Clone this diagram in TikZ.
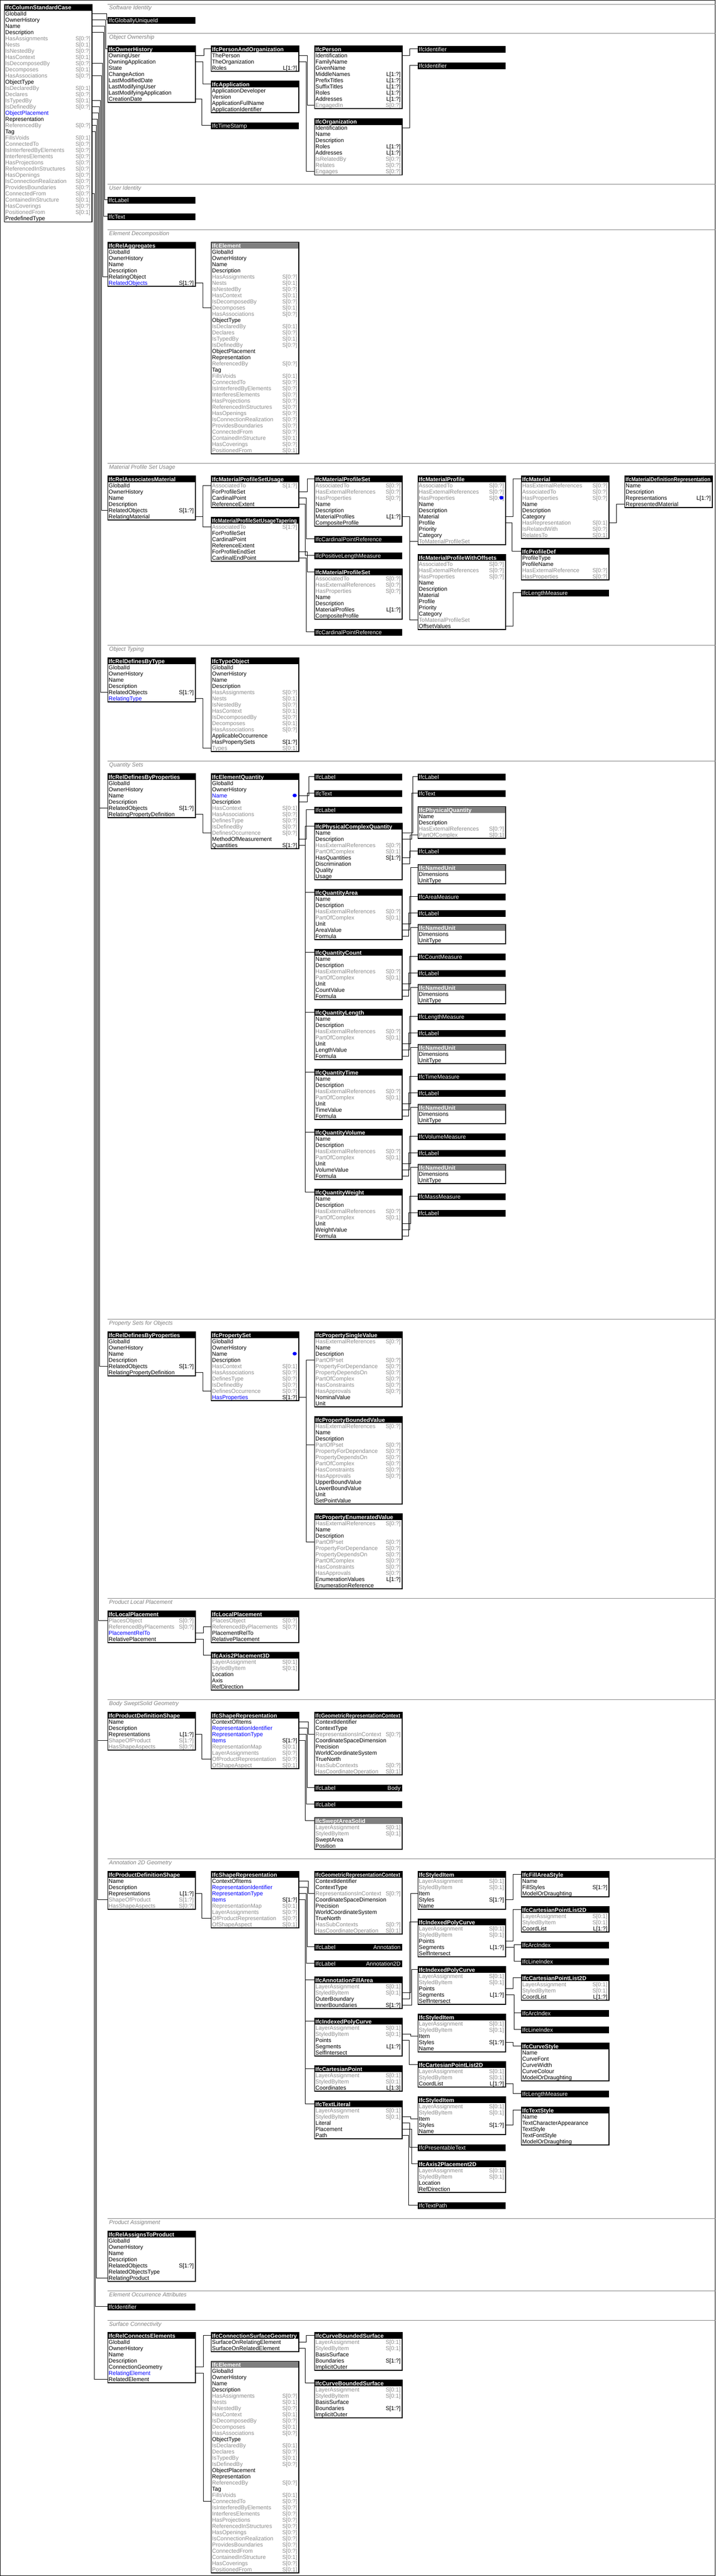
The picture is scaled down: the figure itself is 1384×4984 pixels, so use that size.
\documentclass[tikz,border=0pt]{standalone}
\usepackage{fontspec}
\setmainfont{Liberation Sans}
\usetikzlibrary{calc}
\definecolor{tk}{RGB}{0,0,0}
\definecolor{tg}{RGB}{140,140,140}
\definecolor{tb}{RGB}{0,0,255}
\definecolor{gline}{RGB}{128,128,128}
\definecolor{ghead}{RGB}{128,128,128}
\def\dashmark{-}
\def\tgname{tg}
\newsavebox\hbx
\newcommand\fittitle[1]{\sbox\hbx{#1}\ifdim\wd\hbx>164pt\resizebox{164pt}{\height}{\usebox\hbx}\else\usebox\hbx\fi}
\tikzset{
  rowtext/.style={anchor=base west, inner sep=0pt, font=\fontsize{11}{12}\selectfont},
  suftext/.style={anchor=base east, inner sep=0pt, font=\fontsize{11}{12}\selectfont},
  headtext/.style={anchor=base west, inner sep=0pt, text=white, font=\bfseries\fontsize{11}{12}\selectfont},
  typetext/.style={anchor=base west, inner sep=0pt, text=white, font=\fontsize{11}{12}\selectfont},
  sectitle/.style={anchor=base west, inner sep=0pt, text=gline, font=\itshape\fontsize{11}{12}\selectfont},
  conn/.style={draw=black, line width=1pt},
  entbox/.style={draw=black, line width=1pt, fill=white, anchor=north west, inner sep=0pt, minimum width=169pt},
}
% entity: id, x, y, title, header fill, rows
\newcommand\ent[6]{%
  \edef\entlist{#6}%
  \foreach \lab/\suf/\col [count=\i] in \entlist {\xdef\entn{\i}}%
  \node[entbox, minimum height={12.5pt+12pt*\entn}] (#1) at (#2,#3) {};
  \fill[#5] (#2,#3) rectangle ++(169,12.5);
  \node[headtext] (#1T) at (#2+2,#3+10.5) {\fittitle{#4}};
  \draw[line width=1pt] (#1.north west) rectangle (#1.south east);
  \coordinate (#1H) at (#2+169,#3+6.25);
  \coordinate (#1HL) at (#2,#3+6.25);
  \foreach \lab/\suf/\col [count=\i] in \entlist {
    \node[rowtext, text=\col] (#1t\i) at (#2+2,#3+12.5+12*\i-2) {\lab};
    \edef\tmps{\suf}\edef\tmpc{\col}%
    \ifx\tmps\dashmark\else
      \ifx\tmpc\tgname
        \node[suftext, text=tg] (#1s\i) at (#2+167,#3+12.5+12*\i-2) {\suf};
      \else
        \node[suftext] (#1s\i) at (#2+167,#3+12.5+12*\i-2) {\suf};
      \fi
    \fi
    \coordinate (#1R\i) at (#2+169,#3+12.5+12*\i-6);
    \coordinate (#1L\i) at (#2,#3+12.5+12*\i-6);
  }
}
% type box: id, x, y, text, right text
\newcommand\tbox[5]{%
  \node[fill=black, draw=black, line width=1pt, anchor=north west, inner sep=0pt, minimum width=169pt, minimum height=12.5pt] (#1) at (#2,#3) {};
  \node[typetext] (#1T) at (#2+2,#3+10.5) {#4};
  \node[typetext, anchor=base east] (#1V) at (#2+167,#3+10.5) {#5};
  \coordinate (#1HL) at (#2,#3+6.25);
}
\newcommand\secline[3]{%
  \draw[gline, line width=1pt] (208,#2) -- (1384,#2);
  \node[sectitle] (#1) at (211,#2+11) {#3};
}
\newcommand\conn[3]{\draw[conn] (#1) -- (#1 -| #2,0) |- (#3);}
\newcommand\bdot[2]{\fill[tb] (#1,#2) ellipse (4pt and 3.5pt);}

\def\rootr{GlobalId/-/tk,OwnerHistory/-/tk,Name/-/tk,Description/-/tk}
\def\mainrows{\rootr,HasAssignments/S[0:?]/tg,Nests/S[0:1]/tg,IsNestedBy/S[0:?]/tg,HasContext/S[0:1]/tg,IsDecomposedBy/S[0:?]/tg,Decomposes/S[0:1]/tg,HasAssociations/S[0:?]/tg,ObjectType/-/tk,IsDeclaredBy/S[0:1]/tg,Declares/S[0:?]/tg,IsTypedBy/S[0:1]/tg,IsDefinedBy/S[0:?]/tg,ObjectPlacement/-/tb,Representation/-/tk,ReferencedBy/S[0:?]/tg,Tag/-/tk,FillsVoids/S[0:1]/tg,ConnectedTo/S[0:?]/tg,IsInterferedByElements/S[0:?]/tg,InterferesElements/S[0:?]/tg,HasProjections/S[0:?]/tg,ReferencedInStructures/S[0:?]/tg,HasOpenings/S[0:?]/tg,IsConnectionRealization/S[0:?]/tg,ProvidesBoundaries/S[0:?]/tg,ConnectedFrom/S[0:?]/tg,ContainedInStructure/S[0:1]/tg,HasCoverings/S[0:?]/tg,PositionedFrom/S[0:1]/tg,PredefinedType/-/tk}
\def\elemrows{\rootr,HasAssignments/S[0:?]/tg,Nests/S[0:1]/tg,IsNestedBy/S[0:?]/tg,HasContext/S[0:1]/tg,IsDecomposedBy/S[0:?]/tg,Decomposes/S[0:1]/tg,HasAssociations/S[0:?]/tg,ObjectType/-/tk,IsDeclaredBy/S[0:1]/tg,Declares/S[0:?]/tg,IsTypedBy/S[0:1]/tg,IsDefinedBy/S[0:?]/tg,ObjectPlacement/-/tk,Representation/-/tk,ReferencedBy/S[0:?]/tg,Tag/-/tk,FillsVoids/S[0:1]/tg,ConnectedTo/S[0:?]/tg,IsInterferedByElements/S[0:?]/tg,InterferesElements/S[0:?]/tg,HasProjections/S[0:?]/tg,ReferencedInStructures/S[0:?]/tg,HasOpenings/S[0:?]/tg,IsConnectionRealization/S[0:?]/tg,ProvidesBoundaries/S[0:?]/tg,ConnectedFrom/S[0:?]/tg,ContainedInStructure/S[0:1]/tg,HasCoverings/S[0:?]/tg,PositionedFrom/S[0:1]/tg}
\def\qrows#1{Name/-/tk,Description/-/tk,HasExternalReferences/S[0:?]/tg,PartOfComplex/S[0:1]/tg,Unit/-/tk,#1/-/tk,Formula/-/tk}
\def\prows{HasExternalReferences/S[0:?]/tg,Name/-/tk,Description/-/tk,PartOfPset/S[0:?]/tg,PropertyForDependance/S[0:?]/tg,PropertyDependsOn/S[0:?]/tg,PartOfComplex/S[0:?]/tg,HasConstraints/S[0:?]/tg,HasApprovals/S[0:?]/tg}
\def\mprows{AssociatedTo/S[0:?]/tg,HasExternalReferences/S[0:?]/tg,HasProperties/S[0:?]/tg,Name/-/tk,Description/-/tk,Material/-/tk,Profile/-/tk,Priority/-/tk,Category/-/tk,ToMaterialProfileSet/-/tg}
\def\mpsrows{AssociatedTo/S[0:?]/tg,HasExternalReferences/S[0:?]/tg,HasProperties/S[0:?]/tg,Name/-/tk,Description/-/tk,MaterialProfiles/L[1:?]/tk,CompositeProfile/-/tk}
\def\lsr{LayerAssignment/S[0:1]/tg,StyledByItem/S[0:1]/tg}
\def\srrows{ContextOfItems/-/tk,RepresentationIdentifier/-/tb,RepresentationType/-/tb,Items/S[1:?]/tb,RepresentationMap/S[0:1]/tg,LayerAssignments/S[0:?]/tg,OfProductRepresentation/S[0:?]/tg,OfShapeAspect/S[0:1]/tg}
\def\grcrows{ContextIdentifier/-/tk,ContextType/-/tk,RepresentationsInContext/S[0:?]/tg,CoordinateSpaceDimension/-/tk,Precision/-/tk,WorldCoordinateSystem/-/tk,TrueNorth/-/tk,HasSubContexts/S[0:?]/tg,HasCoordinateOperation/S[0:1]/tg}
\def\pdsrows{Name/-/tk,Description/-/tk,Representations/L[1:?]/tk,ShapeOfProduct/S[1:?]/tg,HasShapeAspects/S[0:?]/tg}
\def\ipcrows{\lsr,Points/-/tk,Segments/L[1:?]/tk,SelfIntersect/-/tk}
\def\sirows{\lsr,Item/-/tk,Styles/S[1:?]/tk,Name/-/tk}
\def\cplrows{\lsr,CoordList/L[1:?]/tk}
\def\cbsrows{\lsr,BasisSurface/-/tk,Boundaries/S[1:?]/tk,ImplicitOuter/-/tk}

\begin{document}
\begin{tikzpicture}[x=1pt,y=-1pt]
\useasboundingbox (0,0) rectangle (1384,4984);
\fill[white] (0,0) rectangle (1384,4984);
\draw[line width=1pt] (0.5,0.5) rectangle (1383.5,4983.5);

% ---------- main entity
\ent{main}{8}{8}{IfcColumnStandardCase}{black}{\mainrows}

% ---------- Software Identity
\secline{s1}{8}{Software Identity}
\tbox{guid}{208}{32.5}{IfcGloballyUniqueId}{}

% ---------- Object Ownership
\secline{s2}{64}{Object Ownership}
\ent{ownh}{208}{88.5}{IfcOwnerHistory}{black}{OwningUser/-/tk,OwningApplication/-/tk,State/-/tk,ChangeAction/-/tk,LastModifiedDate/-/tk,LastModifyingUser/-/tk,LastModifyingApplication/-/tk,CreationDate/-/tk}
\ent{pao}{408}{88.5}{IfcPersonAndOrganization}{black}{ThePerson/-/tk,TheOrganization/-/tk,Roles/L[1:?]/tk}
\ent{app}{408}{156.5}{IfcApplication}{black}{ApplicationDeveloper/-/tk,Version/-/tk,ApplicationFullName/-/tk,ApplicationIdentifier/-/tk}
\tbox{ts}{408}{236.5}{IfcTimeStamp}{}
\ent{per}{608}{88.5}{IfcPerson}{black}{Identification/-/tk,FamilyName/-/tk,GivenName/-/tk,MiddleNames/L[1:?]/tk,PrefixTitles/L[1:?]/tk,SuffixTitles/L[1:?]/tk,Roles/L[1:?]/tk,Addresses/L[1:?]/tk,EngagedIn/S[0:?]/tg}
\ent{org}{608}{229}{IfcOrganization}{black}{Identification/-/tk,Name/-/tk,Description/-/tk,Roles/L[1:?]/tk,Addresses/L[1:?]/tk,IsRelatedBy/S[0:?]/tg,Relates/S[0:?]/tg,Engages/S[0:?]/tg}
\tbox{ida}{808}{88.5}{IfcIdentifier}{}
\tbox{idb}{808}{120.5}{IfcIdentifier}{}

% ---------- User Identity
\secline{s3}{356}{User Identity}
\tbox{lblu}{208}{380.5}{IfcLabel}{}
\tbox{txtu}{208}{412.5}{IfcText}{}

% ---------- Element Decomposition
\secline{s4}{444}{Element Decomposition}
\ent{agg}{208}{468.5}{IfcRelAggregates}{black}{\rootr,RelatingObject/-/tk,RelatedObjects/S[1:?]/tb}
\ent{elem}{408}{468.5}{IfcElement}{ghead}{\elemrows}

% ---------- Material Profile Set Usage
\secline{s5}{896}{Material Profile Set Usage}
\ent{assm}{208}{920.5}{IfcRelAssociatesMaterial}{black}{\rootr,RelatedObjects/S[1:?]/tk,RelatingMaterial/-/tk}
\ent{mpsu}{408}{920.5}{IfcMaterialProfileSetUsage}{black}{AssociatedTo/S[1:?]/tg,ForProfileSet/-/tk,CardinalPoint/-/tk,ReferenceExtent/-/tk}
\ent{mpst}{408}{1000.5}{IfcMaterialProfileSetUsageTapering}{black}{AssociatedTo/S[1:?]/tg,ForProfileSet/-/tk,CardinalPoint/-/tk,ReferenceExtent/-/tk,ForProfileEndSet/-/tk,CardinalEndPoint/-/tk}
\ent{mpsa}{608}{920.5}{IfcMaterialProfileSet}{black}{\mpsrows}
\tbox{cpra}{608}{1036.5}{IfcCardinalPointReference}{}
\tbox{plm}{608}{1068.5}{IfcPositiveLengthMeasure}{}
\ent{mpsb}{608}{1100.5}{IfcMaterialProfileSet}{black}{\mpsrows}
\tbox{cprb}{608}{1216.5}{IfcCardinalPointReference}{}
\ent{mpa}{808}{920.5}{IfcMaterialProfile}{black}{\mprows}
\ent{mpo}{808}{1072.5}{IfcMaterialProfileWithOffsets}{black}{\mprows,OffsetValues/-/tk}
\ent{mat}{1008}{920.5}{IfcMaterial}{black}{HasExternalReferences/S[0:?]/tg,AssociatedTo/S[0:?]/tg,HasProperties/S[0:?]/tg,Name/-/tk,Description/-/tk,Category/-/tk,HasRepresentation/S[0:1]/tg,IsRelatedWith/S[0:?]/tg,RelatesTo/S[0:1]/tg}
\ent{pdef}{1008}{1060.5}{IfcProfileDef}{black}{ProfileType/-/tk,ProfileName/-/tk,HasExternalReference/S[0:?]/tg,HasProperties/S[0:?]/tg}
\tbox{lmeas}{1008}{1140.5}{IfcLengthMeasure}{}
\ent{mdr}{1208}{920.5}{IfcMaterialDefinitionRepresentation}{black}{Name/-/tk,Description/-/tk,Representations/L[1:?]/tk,RepresentedMaterial/-/tk}
\bdot{970}{963}

% ---------- Object Typing
\secline{s6}{1248}{Object Typing}
\ent{dbt}{208}{1272.5}{IfcRelDefinesByType}{black}{\rootr,RelatedObjects/S[1:?]/tk,RelatingType/-/tb}
\ent{typ}{408}{1272.5}{IfcTypeObject}{black}{\rootr,HasAssignments/S[0:?]/tg,Nests/S[0:1]/tg,IsNestedBy/S[0:?]/tg,HasContext/S[0:1]/tg,IsDecomposedBy/S[0:?]/tg,Decomposes/S[0:1]/tg,HasAssociations/S[0:?]/tg,ApplicableOccurrence/-/tk,HasPropertySets/S[1:?]/tk,Types/S[0:1]/tg}

% ---------- Quantity Sets
\secline{s7}{1472}{Quantity Sets}
\ent{dbpq}{208}{1496.5}{IfcRelDefinesByProperties}{black}{\rootr,RelatedObjects/S[1:?]/tk,RelatingPropertyDefinition/-/tk}
\ent{eq}{408}{1496.5}{IfcElementQuantity}{black}{GlobalId/-/tk,OwnerHistory/-/tk,Name/-/tb,Description/-/tk,HasContext/S[0:1]/tg,HasAssociations/S[0:?]/tg,DefinesType/S[0:?]/tg,IsDefinedBy/S[0:?]/tg,DefinesOccurrence/S[0:?]/tg,MethodOfMeasurement/-/tk,Quantities/S[1:?]/tk}
\bdot{570}{1539}
\tbox{lqa}{608}{1496.5}{IfcLabel}{}
\tbox{tqa}{608}{1528.5}{IfcText}{}
\tbox{lqb}{608}{1560.5}{IfcLabel}{}
\ent{pcq}{608}{1592.5}{IfcPhysicalComplexQuantity}{black}{Name/-/tk,Description/-/tk,HasExternalReferences/S[0:?]/tg,PartOfComplex/S[0:1]/tg,HasQuantities/S[1:?]/tk,Discrimination/-/tk,Quality/-/tk,Usage/-/tk}
\ent{qa}{608}{1720.5}{IfcQuantityArea}{black}{\qrows{AreaValue}}
\ent{qc}{608}{1836.5}{IfcQuantityCount}{black}{\qrows{CountValue}}
\ent{ql}{608}{1952.5}{IfcQuantityLength}{black}{\qrows{LengthValue}}
\ent{qt}{608}{2068.5}{IfcQuantityTime}{black}{\qrows{TimeValue}}
\ent{qv}{608}{2184.5}{IfcQuantityVolume}{black}{\qrows{VolumeValue}}
\ent{qw}{608}{2300.5}{IfcQuantityWeight}{black}{\qrows{WeightValue}}
\tbox{lfa}{808}{1496.5}{IfcLabel}{}
\tbox{tfa}{808}{1528.5}{IfcText}{}
\ent{pq}{808}{1560.5}{IfcPhysicalQuantity}{ghead}{Name/-/tk,Description/-/tk,HasExternalReferences/S[0:?]/tg,PartOfComplex/S[0:1]/tg}
\tbox{lfb}{808}{1640.5}{IfcLabel}{}
\ent{nuA}{808}{1672.5}{IfcNamedUnit}{ghead}{Dimensions/-/tk,UnitType/-/tk}
\tbox{msA}{808}{1728.5}{IfcAreaMeasure}{}
\tbox{lbA}{808}{1760.5}{IfcLabel}{}
\ent{nuB}{808}{1788.5}{IfcNamedUnit}{ghead}{Dimensions/-/tk,UnitType/-/tk}
\tbox{msB}{808}{1844.5}{IfcCountMeasure}{}
\tbox{lbB}{808}{1876.5}{IfcLabel}{}
\ent{nuC}{808}{1904.5}{IfcNamedUnit}{ghead}{Dimensions/-/tk,UnitType/-/tk}
\tbox{msC}{808}{1960.5}{IfcLengthMeasure}{}
\tbox{lbC}{808}{1992.5}{IfcLabel}{}
\ent{nuD}{808}{2020.5}{IfcNamedUnit}{ghead}{Dimensions/-/tk,UnitType/-/tk}
\tbox{msD}{808}{2076.5}{IfcTimeMeasure}{}
\tbox{lbD}{808}{2108.5}{IfcLabel}{}
\ent{nuE}{808}{2136.5}{IfcNamedUnit}{ghead}{Dimensions/-/tk,UnitType/-/tk}
\tbox{msE}{808}{2192.5}{IfcVolumeMeasure}{}
\tbox{lbE}{808}{2224.5}{IfcLabel}{}
\ent{nuF}{808}{2252.5}{IfcNamedUnit}{ghead}{Dimensions/-/tk,UnitType/-/tk}
\tbox{msF}{808}{2308.5}{IfcMassMeasure}{}
\tbox{lbF}{808}{2340.5}{IfcLabel}{}

% ---------- Property Sets for Objects
\secline{s8}{2552}{Property Sets for Objects}
\ent{dbpp}{208}{2576.5}{IfcRelDefinesByProperties}{black}{\rootr,RelatedObjects/S[1:?]/tk,RelatingPropertyDefinition/-/tk}
\ent{pset}{408}{2576.5}{IfcPropertySet}{black}{\rootr,HasContext/S[0:1]/tg,HasAssociations/S[0:?]/tg,DefinesType/S[0:?]/tg,IsDefinedBy/S[0:?]/tg,DefinesOccurrence/S[0:?]/tg,HasProperties/S[1:?]/tb}
\bdot{570}{2619}
\ent{psv}{608}{2576.5}{IfcPropertySingleValue}{black}{\prows,NominalValue/-/tk,Unit/-/tk}
\ent{pbv}{608}{2740.5}{IfcPropertyBoundedValue}{black}{\prows,UpperBoundValue/-/tk,LowerBoundValue/-/tk,Unit/-/tk,SetPointValue/-/tk}
\ent{pev}{608}{2928.5}{IfcPropertyEnumeratedValue}{black}{\prows,EnumerationValues/L[1:?]/tk,EnumerationReference/-/tk}

% ---------- Product Local Placement
\secline{s9}{3092}{Product Local Placement}
\ent{lpa}{208}{3116.5}{IfcLocalPlacement}{black}{PlacesObject/S[0:?]/tg,ReferencedByPlacements/S[0:?]/tg,PlacementRelTo/-/tb,RelativePlacement/-/tk}
\ent{lpb}{408}{3116.5}{IfcLocalPlacement}{black}{PlacesObject/S[0:?]/tg,ReferencedByPlacements/S[0:?]/tg,PlacementRelTo/-/tk,RelativePlacement/-/tk}
\ent{axa}{408}{3196.5}{IfcAxis2Placement3D}{black}{\lsr,Location/-/tk,Axis/-/tk,RefDirection/-/tk}

% ---------- Body SweptSolid Geometry
\secline{s10}{3288}{Body SweptSolid Geometry}
\ent{pdsa}{208}{3312.5}{IfcProductDefinitionShape}{black}{\pdsrows}
\ent{sra}{408}{3312.5}{IfcShapeRepresentation}{black}{\srrows}
\ent{grca}{608}{3312.5}{IfcGeometricRepresentationContext}{black}{\grcrows}
\tbox{lbba}{608}{3452.5}{IfcLabel}{Body}
\tbox{lbbb}{608}{3484.5}{IfcLabel}{}
\ent{sas}{608}{3516.5}{IfcSweptAreaSolid}{ghead}{\lsr,SweptArea/-/tk,Position/-/tk}

% ---------- Annotation 2D Geometry
\secline{s11}{3596}{Annotation 2D Geometry}
\ent{pdsb}{208}{3620.5}{IfcProductDefinitionShape}{black}{\pdsrows}
\ent{srb}{408}{3620.5}{IfcShapeRepresentation}{black}{\srrows}
\ent{grcb}{608}{3620.5}{IfcGeometricRepresentationContext}{black}{\grcrows}
\tbox{lana}{608}{3760.5}{IfcLabel}{Annotation}
\tbox{lanb}{608}{3792.5}{IfcLabel}{Annotation2D}
\ent{afa}{608}{3824.5}{IfcAnnotationFillArea}{black}{\lsr,OuterBoundary/-/tk,InnerBoundaries/S[1:?]/tk}
\ent{ipc}{608}{3904.5}{IfcIndexedPolyCurve}{black}{\ipcrows}
\ent{cpt}{608}{3996.5}{IfcCartesianPoint}{black}{\lsr,Coordinates/L[1:3]/tk}
\ent{tlit}{608}{4064.5}{IfcTextLiteral}{black}{\lsr,Literal/-/tk,Placement/-/tk,Path/-/tk}
\ent{sic}{808}{3620.5}{IfcStyledItem}{black}{\sirows}
\ent{ipca}{808}{3712.5}{IfcIndexedPolyCurve}{black}{\ipcrows}
\ent{ipcb}{808}{3804.5}{IfcIndexedPolyCurve}{black}{\ipcrows}
\ent{sia}{808}{3896.5}{IfcStyledItem}{black}{\sirows}
\ent{cpla}{808}{3988.5}{IfcCartesianPointList2D}{black}{\cplrows}
\ent{sib}{808}{4056.5}{IfcStyledItem}{black}{\sirows}
\tbox{ptxt}{808}{4148.5}{IfcPresentableText}{}
\ent{axb}{808}{4180.5}{IfcAxis2Placement2D}{black}{\lsr,Location/-/tk,RefDirection/-/tk}
\tbox{tpath}{808}{4260.5}{IfcTextPath}{}
\ent{fas}{1008}{3620.5}{IfcFillAreaStyle}{black}{Name/-/tk,FillStyles/S[1:?]/tk,ModelOrDraughting/-/tk}
\ent{cplb}{1008}{3688.5}{IfcCartesianPointList2D}{black}{\cplrows}
\tbox{arca}{1008}{3756.5}{IfcArcIndex}{}
\tbox{lnia}{1008}{3788.5}{IfcLineIndex}{}
\ent{cplc}{1008}{3820.5}{IfcCartesianPointList2D}{black}{\cplrows}
\tbox{arcb}{1008}{3888.5}{IfcArcIndex}{}
\tbox{lnib}{1008}{3920.5}{IfcLineIndex}{}
\ent{cstyle}{1008}{3952.5}{IfcCurveStyle}{black}{Name/-/tk,CurveFont/-/tk,CurveWidth/-/tk,CurveColour/-/tk,ModelOrDraughting/-/tk}
\tbox{lmeb}{1008}{4044.5}{IfcLengthMeasure}{}
\ent{tstyle}{1008}{4076.5}{IfcTextStyle}{black}{Name/-/tk,TextCharacterAppearance/-/tk,TextStyle/-/tk,TextFontStyle/-/tk,ModelOrDraughting/-/tk}

% ---------- Product Assignment
\secline{s12}{4292}{Product Assignment}
\ent{rap}{208}{4316.5}{IfcRelAssignsToProduct}{black}{\rootr,RelatedObjects/S[1:?]/tk,RelatedObjectsType/-/tk,RelatingProduct/-/tk}

% ---------- Element Occurrence Attributes
\secline{s13}{4432}{Element Occurrence Attributes}
\tbox{ido}{208}{4456.5}{IfcIdentifier}{}

% ---------- Surface Connectivity
\secline{s14}{4489}{Surface Connectivity}
\ent{rce}{208}{4512.5}{IfcRelConnectsElements}{black}{\rootr,ConnectionGeometry/-/tk,RelatingElement/-/tb,RelatedElement/-/tk}
\ent{csg}{408}{4512.5}{IfcConnectionSurfaceGeometry}{black}{SurfaceOnRelatingElement/-/tk,SurfaceOnRelatedElement/-/tk}
\ent{elemb}{408}{4568.5}{IfcElement}{ghead}{\elemrows}
\ent{cbsa}{608}{4512.5}{IfcCurveBoundedSurface}{black}{\cbsrows}
\ent{cbsb}{608}{4604.5}{IfcCurveBoundedSurface}{black}{\cbsrows}

% ================= connectors
\conn{mainR1}{206}{guidHL}
\conn{mainR2}{204}{ownhHL}
\conn{mainR3}{202}{lbluHL}
\conn{mainR4}{200}{txtuHL}
\conn{mainR9}{198}{aggL5}
\conn{mainR11}{196}{assmL5}
\conn{mainR15}{194}{dbtL5}
\conn{mainR16}{192}{dbpqL5}
\conn{mainR16}{192}{dbppL5}
\conn{mainR17}{190}{lpaL1}
\conn{mainR18}{188}{pdsaL4}
\conn{mainR18}{188}{pdsbL4}
\conn{mainR19}{186}{rapL7}
\conn{mainR20}{184}{idoHL}
\conn{mainR30}{182}{rceL7}
\conn{ownhR1}{394}{paoHL}
\conn{ownhR2}{392}{appHL}
\conn{ownhR8}{390}{tsHL}
\conn{paoR1}{594}{perL9}
\conn{paoR2}{592}{orgL8}
\conn{perR1}{792}{idaHL}
\conn{orgR1}{792}{idbHL}
\conn{aggR6}{392}{elemL10}
\conn{assmR6}{392}{mpsuL1}
\conn{assmR6}{392}{mpstL1}
\conn{mpsuR2}{594}{mpsaHL}
\conn{mpsuR3}{592}{cpraHL}
\conn{mpsuR4}{590}{plmHL}
\conn{mpstR5}{594}{mpsbHL}
\conn{mpstR6}{592}{cprbHL}
\conn{mpsaR6}{792}{mpaL10}
\conn{mpsaR6}{792}{mpoL10}
\conn{mpaR6}{992}{matHL}
\conn{mpaR7}{990}{pdefHL}
\conn{mpoR11}{992}{lmeasHL}
\conn{matR7}{1192}{mdrL4}
\conn{dbtR6}{392}{typL14}
\conn{dbpqR6}{392}{eqL9}
\conn{eqR3}{597}{lqaHL}
\conn{eqR4}{594}{tqaHL}
\conn{eqR10}{592}{lqbHL}
\conn{eqR11}{590}{pcqHL}
\conn{eqR11}{590}{qaHL}
\conn{eqR11}{590}{qcHL}
\conn{eqR11}{590}{qlHL}
\conn{eqR11}{590}{qtHL}
\conn{eqR11}{590}{qvHL}
\conn{eqR11}{590}{qwHL}
\conn{pcqR1}{798}{lfaHL}
\conn{pcqR2}{796}{tfaHL}
\conn{pcqR5}{793}{pqL4}
\conn{pcqR6}{792}{lfbHL}
\conn{qaR5}{794}{nuAHL}
\conn{qaR6}{792}{msAHL}
\conn{qaR7}{790}{lbAHL}
\conn{qcR5}{794}{nuBHL}
\conn{qcR6}{792}{msBHL}
\conn{qcR7}{790}{lbBHL}
\conn{qlR5}{794}{nuCHL}
\conn{qlR6}{792}{msCHL}
\conn{qlR7}{790}{lbCHL}
\conn{qtR5}{794}{nuDHL}
\conn{qtR6}{792}{msDHL}
\conn{qtR7}{790}{lbDHL}
\conn{qvR5}{794}{nuEHL}
\conn{qvR6}{792}{msEHL}
\conn{qvR7}{790}{lbEHL}
\conn{qwR5}{794}{nuFHL}
\conn{qwR6}{792}{msFHL}
\conn{qwR7}{790}{lbFHL}
\conn{dbppR6}{392}{psetL9}
\conn{psetR10}{592}{psvL4}
\conn{psetR10}{592}{pbvL4}
\conn{psetR10}{592}{pevL4}
\conn{lpaR3}{393}{lpbL2}
\conn{lpaR4}{393}{axaHL}
\conn{pdsaR3}{390}{sraL7}
\conn{sraR1}{596}{grcaL3}
\conn{sraR2}{594}{lbbaHL}
\conn{sraR3}{592}{lbbbHL}
\conn{sraR4}{590}{sasHL}
\conn{pdsbR3}{390}{srbL7}
\conn{srbR1}{596}{grcbL3}
\conn{srbR2}{594}{lanaHL}
\conn{srbR3}{592}{lanbHL}
\conn{srbR4}{590}{afaHL}
\conn{srbR4}{590}{ipcHL}
\conn{srbR4}{590}{cptHL}
\conn{srbR4}{590}{tlitHL}
\conn{afaR2}{794}{sicL3}
\conn{afaR3}{792}{ipcaHL}
\conn{afaR4}{796}{ipcbHL}
\conn{sicR4}{992}{fasHL}
\conn{ipcR2}{794}{siaL3}
\conn{ipcR3}{791}{cplaHL}
\conn{tlitR2}{794}{sibL3}
\conn{tlitR3}{792}{ptxtHL}
\conn{tlitR4}{796}{axbHL}
\conn{tlitR5}{790}{tpathHL}
\conn{ipcaR3}{992}{cplbHL}
\conn{ipcaR4}{994}{arcaHL}
\conn{ipcaR4}{994}{lniaHL}
\conn{ipcbR3}{992}{cplcHL}
\conn{ipcbR4}{994}{arcbHL}
\conn{ipcbR4}{994}{lnibHL}
\conn{siaR4}{992}{cstyleHL}
\conn{cplaR3}{992}{lmebHL}
\conn{sibR4}{992}{tstyleHL}
\conn{rceR5}{393}{csgHL}
\conn{rceR6}{393}{elembL22}
\conn{csgR1}{592}{cbsaHL}
\conn{csgR2}{590}{cbsbHL}
\end{tikzpicture}
\end{document}
